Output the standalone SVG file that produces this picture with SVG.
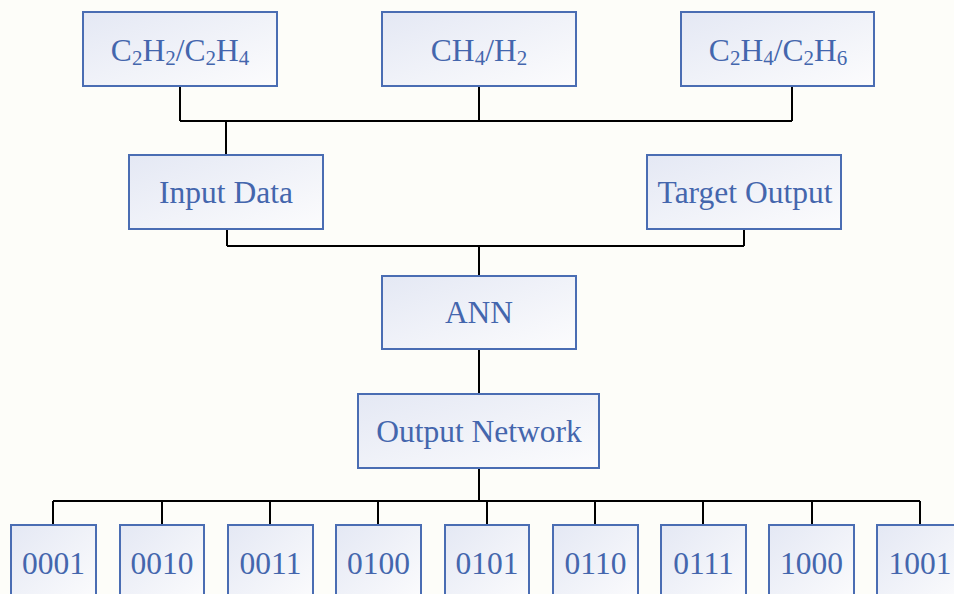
<svg xmlns="http://www.w3.org/2000/svg" width="954" height="594" viewBox="0 0 954 594">
<defs>
<linearGradient id="bf" x1="0" y1="0" x2="1" y2="1">
<stop offset="0" stop-color="#e4e8f4"/>
<stop offset="1" stop-color="#fcfcfd"/>
</linearGradient>
<style>
.box{fill:url(#bf);stroke:#4a6db3;stroke-width:2}
.t{font-family:"Liberation Serif","Times New Roman",serif;font-size:31.5px;fill:#4466ad;text-anchor:middle}
.s{font-size:21px}
.c{fill:none;stroke:#000;stroke-width:2}
</style>
</defs>
<rect x="0" y="0" width="954" height="594" fill="#fdfdf9"/>
<g id="connectors">
<path class="c" d="M180 86V121M479 86V121M792 86V121M180 121H792M226 121V155"/>
<path class="c" d="M227 229V246M744 229V246M227 246H744M479 246V276"/>
<path class="c" d="M479 349V394M479 468V501"/>
<path class="c" d="M53 501H920M53 501V525M162 501V525M270 501V525M378 501V525M487 501V525M595 501V525M703 501V525M812 501V525M920 501V525"/>
</g>
<g id="n_c2h2">
<rect class="box" x="83" y="12" width="194" height="74"/>
<text class="t" x="180" y="61">C<tspan class="s" dy="4">2</tspan><tspan dy="-4">H</tspan><tspan class="s" dy="4">2</tspan><tspan dy="-4">/C</tspan><tspan class="s" dy="4">2</tspan><tspan dy="-4">H</tspan><tspan class="s" dy="4">4</tspan></text>
</g>
<g id="n_ch4">
<rect class="box" x="382" y="12" width="194" height="74"/>
<text class="t" x="479" y="61">CH<tspan class="s" dy="4">4</tspan><tspan dy="-4">/H</tspan><tspan class="s" dy="4">2</tspan></text>
</g>
<g id="n_c2h4">
<rect class="box" x="681" y="12" width="193" height="74"/>
<text class="t" x="778" y="61">C<tspan class="s" dy="4">2</tspan><tspan dy="-4">H</tspan><tspan class="s" dy="4">4</tspan><tspan dy="-4">/C</tspan><tspan class="s" dy="4">2</tspan><tspan dy="-4">H</tspan><tspan class="s" dy="4">6</tspan></text>
</g>
<g id="n_input">
<rect class="box" x="129" y="155" width="194" height="74"/>
<text class="t" x="226" y="203">Input Data</text>
</g>
<g id="n_target">
<rect class="box" x="647" y="155" width="194" height="74"/>
<text class="t" x="745" y="203">Target Output</text>
</g>
<g id="n_ann">
<rect class="box" x="382" y="276" width="194" height="73"/>
<text class="t" x="479" y="323">ANN</text>
</g>
<g id="n_outnet">
<rect class="box" x="358" y="394" width="241" height="74"/>
<text class="t" x="479" y="442">Output Network</text>
</g>
<g id="n_0001"><rect class="box" x="11" y="525" width="85" height="80"/><text class="t" x="53.5" y="574">0001</text></g>
<g id="n_0010"><rect class="box" x="120" y="525" width="84" height="80"/><text class="t" x="162" y="574">0010</text></g>
<g id="n_0011"><rect class="box" x="228" y="525" width="85" height="80"/><text class="t" x="270.5" y="574">0011</text></g>
<g id="n_0100"><rect class="box" x="336" y="525" width="85" height="80"/><text class="t" x="378.5" y="574">0100</text></g>
<g id="n_0101"><rect class="box" x="445" y="525" width="84" height="80"/><text class="t" x="487" y="574">0101</text></g>
<g id="n_0110"><rect class="box" x="553" y="525" width="85" height="80"/><text class="t" x="595.5" y="574">0110</text></g>
<g id="n_0111"><rect class="box" x="661" y="525" width="85" height="80"/><text class="t" x="703.5" y="574">0111</text></g>
<g id="n_1000"><rect class="box" x="769" y="525" width="85" height="80"/><text class="t" x="811.5" y="574">1000</text></g>
<g id="n_1001"><rect class="box" x="877" y="525" width="85" height="80"/><text class="t" x="920" y="574">1001</text></g>
</svg>
